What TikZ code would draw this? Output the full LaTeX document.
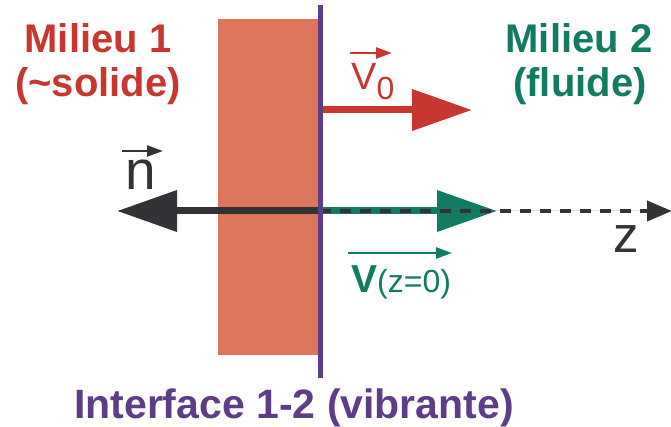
\documentclass[tikz,border=0pt]{standalone}
\usepackage{fontspec}
\setmainfont{Liberation Sans}
\usetikzlibrary{arrows.meta}
\pgfdeclarelayer{edgelayer}
\pgfdeclarelayer{nodelayer}
\pgfsetlayers{edgelayer,nodelayer,main}
\definecolor{saumon}{RGB}{221,117,93}
\definecolor{iface}{RGB}{94,61,135}
\definecolor{rouge}{RGB}{200,55,47}
\definecolor{vert}{RGB}{18,124,99}
\definecolor{noir}{RGB}{51,51,55}
\tikzstyle{texte}=[inner sep=0, anchor=base]
\tikzstyle{titre}=[texte, font=\bfseries\fontsize{40}{40}\selectfont]
\tikzstyle{gros}=[line width=7pt, -{Triangle[length=60pt,width=40pt]}]
\tikzstyle{vec}=[line width=2.6pt, -{Triangle[length=16pt,width=11pt]}]
\tikzstyle{axe}=[draw=noir, line width=4pt, dash pattern=on 11pt off 9pt, -{Triangle[length=25pt,width=20pt]}]

\begin{document}
\begin{tikzpicture}[x=1pt, y=-1pt]
				\useasboundingbox (0,0) rectangle (671,427);
				\begin{pgfonlayer}{nodelayer}
					\node [style=titre, text=rouge] (1) at (98,53) {Milieu 1};
					\node [style=titre, text=rouge] (2) at (98,97) {(\textasciitilde solide)};
					\node [style=titre, text=vert] (3) at (579,53) {Milieu 2};
					\node [style=titre, text=vert] (4) at (580,97) {(fluide)};
					\node [style=titre, text=iface, font=\bfseries\fontsize{41}{41}\selectfont] (5) at (294,418) {Interface 1-2 (vibrante)};
					\node [style=texte, anchor=base west, text=rouge, font=\fontsize{38}{38}\selectfont] (6) at (351,90) {V\raisebox{-10pt}{\fontsize{32}{32}\selectfont 0}};
					\node [style=texte, anchor=base west, text=vert] (7) at (351,292) {{\bfseries\fontsize{39}{39}\selectfont V}{\fontsize{32}{32}\selectfont (z=0)}};
					\node [style=texte, text=noir, font=\fontsize{55}{55}\selectfont] (8) at (141,190) {n};
					\node [style=texte, text=noir, font=\fontsize{51}{51}\selectfont] (9) at (626.5,253) {z};
				\end{pgfonlayer}
				\begin{pgfonlayer}{edgelayer}
					\fill [saumon] (218,19) rectangle (318,355);
					\coordinate (10) at (320,211);
					\coordinate (11) at (117,211);
					\coordinate (12) at (497,211);
					\coordinate (13) at (672,211);
					\coordinate (14) at (320,110);
					\coordinate (15) at (472,110);
					\coordinate (16) at (320,5);
					\coordinate (17) at (320,378);
					\coordinate (18) at (122,151);
					\coordinate (19) at (163,151);
					\coordinate (20) at (350,53);
					\coordinate (21) at (392,53);
					\coordinate (22) at (348,253);
					\coordinate (23) at (452,253);
					\draw [style=gros, draw=noir, fill=noir] (10) to (11);
					\draw [style=gros, draw=vert, fill=vert] (10) to (12);
					\draw [style=axe, fill=noir] (10) to (13);
					\draw [style=gros, draw=rouge, fill=rouge] (14) to (15);
					\draw [iface, line width=5pt] (16) to (17);
					\draw [style=vec, draw=noir, fill=noir] (18) to (19);
					\draw [style=vec, draw=rouge, fill=rouge] (20) to (21);
					\draw [style=vec, draw=vert, fill=vert] (22) to (23);
				\end{pgfonlayer}
			\end{tikzpicture}
\end{document}
